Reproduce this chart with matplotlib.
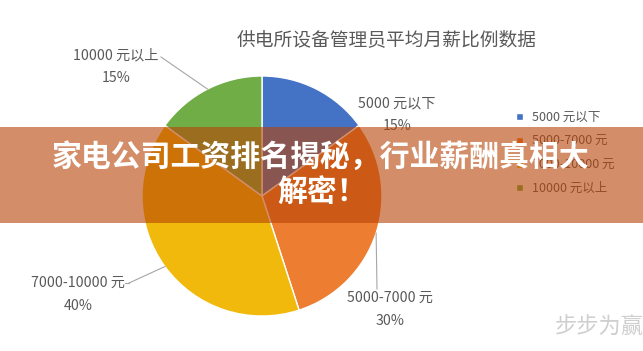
import numpy as np
import matplotlib
matplotlib.use('Agg')
import matplotlib.pyplot as plt
from matplotlib.patches import Rectangle

plt.rcParams['font.family'] = ['Noto Sans CJK SC', 'DejaVu Sans']

# data
title = '供电所设备管理员平均月薪比例数据'
cats = ['5000 元以下', '5000-7000 元', '7000-10000 元', '10000 元以上']
shares = [15, 30, 40, 15]
colors = ['#4472C4', '#ED7D31', '#F0B90B', '#70AD47']
banner_lines = ['家电公司工资排名揭秘，行业薪酬真相大', '解密！']
watermark = '步步为赢'

W, H = 643, 351
fig = plt.figure(figsize=(W / 100, H / 100), dpi=100)
ax = fig.add_axes([0, 0, 1, 1])

cx, cy, r = 262, 196, 120
# y axis is flipped below, so counterclock here = clockwise on screen
wedges, _ = ax.pie(shares, colors=colors, startangle=-90, counterclock=True,
                   center=(cx, cy), radius=r,
                   wedgeprops=dict(edgecolor='white', linewidth=1))
ax.set_xlim(0, W)
ax.set_ylim(H, 0)
ax.set_aspect('auto')
ax.axis('off')

txt_col = '#595959'
line_col = '#A6A6A6'
ax.text(387, 40, title, ha='center', va='center', fontsize=13.5, color=txt_col)

# label placement (x centre, name line y) + leader line end
lab_pos = [(397, 103, None), (390, 298, (377, 289)),
           (78, 283, (129, 283)), (116, 55, (161, 57))]
for w, name, v, (lx, ly, lead) in zip(wedges, cats, shares, lab_pos):
    mid = np.deg2rad((w.theta1 + w.theta2) / 2)
    ex, ey = cx + r * np.cos(mid), cy + r * np.sin(mid)
    if lead is not None:
        ax.plot([ex, lead[0]], [ey, lead[1]], color=line_col, lw=0.8, zorder=1)
        if lead[1] == ly:
            side = -4 if lead[0] < ex else 4
            ax.plot([lead[0], lead[0] + side], [ly, ly], color=line_col, lw=0.8)
    ax.text(lx, ly, name, ha='center', va='center', fontsize=10.2, color=txt_col)
    ax.text(lx, ly + 23, f'{v}%', ha='center', va='center', fontsize=10.2, color=txt_col)

leg = ax.legend(wedges, cats, loc='upper left', bbox_to_anchor=(505, 100),
                bbox_transform=ax.transData, frameon=False, fontsize=9,
                handlelength=0.5, handleheight=0.5, handletextpad=0.75,
                labelspacing=0.85, labelcolor=txt_col)
leg.set_zorder(2)

# overlay banner
ax.add_patch(Rectangle((0, 127), W, 96, facecolor='#B74305', alpha=0.6,
                       edgecolor='none', zorder=6))
ax.text(321, 157, banner_lines[0], ha='center', va='center', fontsize=21.5,
        fontweight='bold', color='white', zorder=7)
ax.text(322, 192, banner_lines[1], ha='center', va='center', fontsize=21.5,
        fontweight='bold', color='white', zorder=7)

ax.text(599, 326, watermark, ha='center', va='center', fontsize=16,
        color='#CFCFCF', zorder=7)

fig.savefig('out.png', dpi=100)
